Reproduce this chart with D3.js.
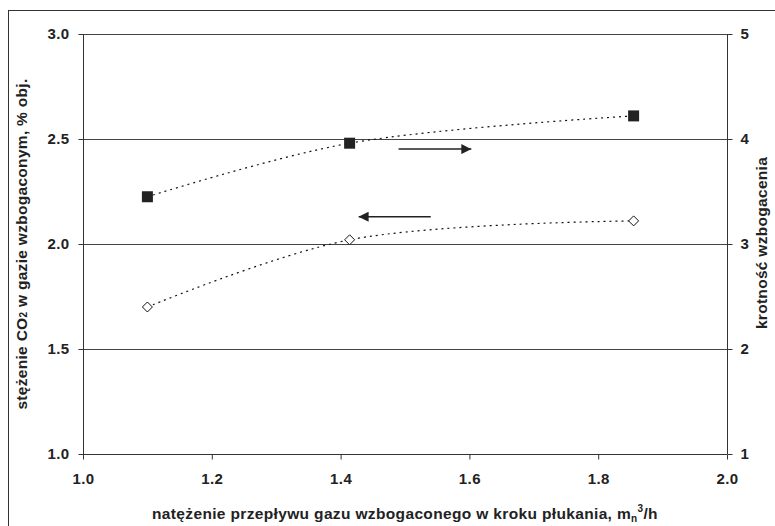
<!DOCTYPE html>
<html>
  <head>
    <meta charset="utf-8">
    <title>CO2 enrichment</title>
    <script src="https://d3js.org/d3.v7.min.js"></script>
    <style type="text/css">
      body { margin: 0; background: #fff; }
      text { font-family: "Liberation Sans", Arial, sans-serif; font-weight: bold; fill: #222; }
    </style>
  </head>
  <body>
    <script type="text/javascript">

      // Data
      var flow = [1.10, 1.414, 1.855];          // x values, m_n^3/h
      var co2 = [1.70, 2.02, 2.11];             // left axis, % obj.
      var enrichment = [3.45, 3.96, 4.22];      // right axis, krotność
      var xTicks = [1.0, 1.2, 1.4, 1.6, 1.8, 2.0];
      var yLeftTicks = [1.0, 1.5, 2.0, 2.5, 3.0];
      var yRightTicks = [1, 2, 3, 4, 5];

      var width = 775;
      var height = 526;
      var margin = {top: 34, right: 48, bottom: 72, left: 83};

      var svg = d3.select("body")
          .append("svg")
          .attr("width", width)
          .attr("height", height);

      // outer frame
      svg.append("rect")
          .attr("x", 8.5)
          .attr("y", 10.5)
          .attr("width", 780)
          .attr("height", 530)
          .style("fill", "none")
          .style("stroke", "#333")
          .style("stroke-width", 1);

      var x = d3.scaleLinear().domain([1.0, 2.0]).range([margin.left, width - margin.right]);
      var yL = d3.scaleLinear().domain([1.0, 3.0]).range([height - margin.bottom, margin.top]);
      var yR = d3.scaleLinear().domain([1, 5]).range([height - margin.bottom, margin.top]);

      // horizontal grid lines
      svg.append("g")
          .selectAll("line")
          .data(yLeftTicks.slice(1))
          .enter().append("line")
          .attr("x1", x(1.0))
          .attr("x2", x(2.0))
          .attr("y1", function(d) { return Math.round(yL(d)) + 0.5; })
          .attr("y2", function(d) { return Math.round(yL(d)) + 0.5; })
          .style("stroke", "#444")
          .style("stroke-width", 1);

      // axes
      var xAxis = svg.append("g")
          .attr("transform", "translate(0," + (Math.round(yL(1.0)) + 0.5) + ")")
          .call(d3.axisBottom(x).tickValues(xTicks).tickFormat(d3.format(".1f")).tickSize(5).tickPadding(14));

      var yAxisL = svg.append("g")
          .attr("transform", "translate(" + (Math.round(x(1.0)) + 0.5) + ",0)")
          .call(d3.axisLeft(yL).tickValues(yLeftTicks).tickFormat(d3.format(".1f")).tickSize(5).tickPadding(9));

      var yAxisR = svg.append("g")
          .attr("transform", "translate(" + (Math.round(x(2.0)) + 0.5) + ",0)")
          .call(d3.axisRight(yR).tickValues(yRightTicks).tickFormat(d3.format("d")).tickSize(5).tickPadding(8));

      [xAxis, yAxisL, yAxisR].forEach(function(a) {
        a.select(".domain").style("stroke", "#333");
        a.selectAll(".tick line").style("stroke", "#333");
        a.selectAll(".tick text")
            .style("font-size", "15px")
            .style("letter-spacing", "0.4px")
            .style("font-family", "'Liberation Sans', Arial, sans-serif")
            .style("font-weight", "bold")
            .style("fill", "#222");
      });
      // plain axis lines without the end ticks
      xAxis.select(".domain").attr("d", "M" + x(1.0) + ",0H" + x(2.0));
      yAxisL.select(".domain").attr("d", "M0," + yL(1.0) + "V" + yL(3.0));
      yAxisR.select(".domain").attr("d", "M0," + yR(1) + "V" + yR(5));

      // series lines (smoothed, dotted)
      var lineL = d3.line()
          .x(function(d, i) { return x(flow[i]); })
          .y(function(d) { return yL(d); })
          .curve(d3.curveCatmullRom.alpha(0.5));

      var lineR = d3.line()
          .x(function(d, i) { return x(flow[i]); })
          .y(function(d) { return yR(d); })
          .curve(d3.curveCatmullRom.alpha(0.5));

      svg.append("path")
          .attr("d", lineR(enrichment))
          .style("fill", "none")
          .style("stroke", "#111")
          .style("stroke-width", 1.2)
          .style("stroke-dasharray", "2,4");

      svg.append("path")
          .attr("d", lineL(co2))
          .style("fill", "none")
          .style("stroke", "#111")
          .style("stroke-width", 1.2)
          .style("stroke-dasharray", "2,4");

      // markers: filled squares (right axis)
      svg.append("g")
          .selectAll("rect")
          .data(enrichment)
          .enter().append("rect")
          .attr("x", function(d, i) { return x(flow[i]) - 5.5; })
          .attr("y", function(d) { return yR(d) - 5.5; })
          .attr("width", 11)
          .attr("height", 11)
          .style("fill", "#222");

      // markers: open diamonds (left axis)
      svg.append("g")
          .selectAll("path")
          .data(co2)
          .enter().append("path")
          .attr("transform", function(d, i) { return "translate(" + x(flow[i]) + "," + yL(d) + ")"; })
          .attr("d", "M0,-5L5,0L0,5L-5,0Z")
          .style("fill", "#fff")
          .style("stroke", "#111")
          .style("stroke-width", 1);

      // arrows showing which axis each series belongs to
      var defs = svg.append("defs");
      defs.append("marker")
          .attr("id", "head")
          .attr("viewBox", "0 0 10 10")
          .attr("refX", 10)
          .attr("refY", 5)
          .attr("markerUnits", "userSpaceOnUse")
          .attr("markerWidth", 10)
          .attr("markerHeight", 10)
          .attr("orient", "auto")
          .append("path")
          .attr("d", "M0,0L10,5L0,10Z")
          .style("fill", "#222");

      var arrows = [
        {from: 1.49, to: 1.603, y: 2.452},
        {from: 1.54, to: 1.428, y: 2.13}
      ];
      svg.append("g")
          .selectAll("line")
          .data(arrows)
          .enter().append("line")
          .attr("x1", function(d) { return x(d.from); })
          .attr("x2", function(d) { return x(d.to); })
          .attr("y1", function(d) { return yL(d.y); })
          .attr("y2", function(d) { return yL(d.y); })
          .style("stroke", "#222")
          .style("stroke-width", 1.5)
          .attr("marker-end", "url(#head)");

      // axis titles
      var tL = svg.append("text")
          .attr("transform", "translate(27," + ((yL(1.0) + yL(3.0)) / 2) + ") rotate(-90)")
          .attr("text-anchor", "middle")
          .style("font-size", "15.5px")
          .style("letter-spacing", "0.3px");
      tL.append("tspan").text("stężenie CO");
      tL.append("tspan").style("font-size", "10px").text("2");
      tL.append("tspan").text(" w gazie wzbogaconym, % obj.");

      svg.append("text")
          .attr("transform", "translate(767," + ((yR(1) + yR(5)) / 2 - 1) + ") rotate(-90)")
          .attr("text-anchor", "middle")
          .style("font-size", "15.5px")
          .style("letter-spacing", "0.3px")
          .text("krotność wzbogacenia");

      var tX = svg.append("text")
          .attr("x", (x(1.0) + x(2.0)) / 2)
          .attr("y", 519)
          .attr("text-anchor", "middle")
          .style("font-size", "15.5px")
          .style("letter-spacing", "0.35px");
      tX.append("tspan").text("natężenie przepływu gazu wzbogaconego w kroku płukania, m");
      tX.append("tspan").attr("dy", 3).style("font-size", "10px").text("n");
      tX.append("tspan").attr("dy", -10).style("font-size", "10px").text("3");
      tX.append("tspan").attr("dy", 7).text("/h");

    </script>
  </body>
</html>
